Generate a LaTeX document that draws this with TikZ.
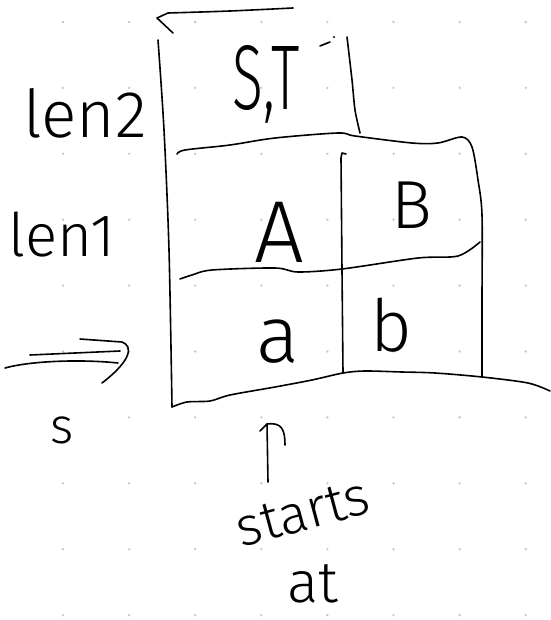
\documentclass[tikz,border=0pt]{standalone}
\usepackage{fontspec}
\usepackage{graphicx}
\setmainfont{Fira Sans Light}
\tikzset{
  pen/.style={line width=1.6pt, line cap=round, line join=round},
  lbl/.style={inner sep=0pt, text=black},
  griddot/.style={fill=black!22},
}
\newcommand{\fsz}[1]{\fontsize{#1}{#1}\selectfont}
\begin{document}
\begin{tikzpicture}[x=1pt,y=-1pt]
  \useasboundingbox (0,0) rectangle (550,620);
  \fill[white] (0,0) rectangle (550,620);
  % dotted paper
  \foreach \i in {0,...,7}
    \foreach \j in {0,...,9}
      \fill[griddot] (63+66.1*\i, 22+65.9*\j) circle (1.3);

  % outer frame: top edge with its hook, left edge, bottom edge
  \draw[pen] (173,33) -- (157,18) -- (168,13)
    plot[smooth, tension=0.5] coordinates {(168,13) (230,11) (293,8)};
  \draw[pen] plot[smooth, tension=0.5] coordinates
    {(158,40) (164,130) (169,250) (172,407)};
  \draw[pen] plot[smooth, tension=0.5] coordinates
    {(172,407) (187,402) (210,401) (230,395) (275,387) (312,380)
     (343,373) (365,371) (402,372) (435,373) (482,377) (528,383) (550,391)};

  % top cell (len2)
  \draw[pen] plot[smooth, tension=0.5] coordinates
    {(347,37) (352,80) (355,110) (360,133)};
  \draw[pen] plot[smooth, tension=0.5] coordinates
    {(177,154) (185,150) (230,145) (275,138) (338,133) (355,136)
     (412,143) (438,143) (462,137) (472,147) (478,180) (482,215)
     (482,300) (482,377)};
  \draw[pen] (320,46) -- (330,42);
  \fill (334,37) circle (1.2);

  % row divider (len1 above, s below)
  \draw[pen] plot[smooth, tension=0.5] coordinates
    {(180,279) (192,275) (212,270) (275,268) (298,272) (342,269)
     (418,258) (458,256) (480,242)};

  % column divider
  \draw[pen] (346,154) -- (342,153) -- (341,158)
    plot[smooth, tension=0.5] coordinates {(341,158) (342,270) (343,373)};

  % cell labels
  \node[lbl] (st) at (266,84) {\fsz{92}\scalebox{0.62}[1]{S,T}};
  \node[lbl] (ca) at (279,232) {\fsz{88}A};
  \node[lbl] (cb) at (412,205) {\fsz{68}B};
  \node[lbl] (sa) at (278,342) {\fsz{80}a};
  \node[lbl] (sb) at (391,325) {\fsz{72}b};

  % row labels
  \node[lbl] (l2) at (85,113) {\fsz{66}len2};
  \node[lbl] (l1) at (62,235) {\fsz{60}len1};

  % direction of s
  \coordinate (u0) at (30,355);
  \coordinate (u1) at (120,351);
  \coordinate (w0) at (5,368);
  \coordinate (w1) at (118,363);
  \draw[pen] (u0) -- (u1);
  \draw[pen] (w0) .. controls (30,361) and (80,359) .. (w1);
  \coordinate (h0) at (80,339);
  \coordinate (h1) at (102,383);
  \draw[pen] (h0) -- (122,342) .. controls (133,346) and (132,360) .. (h1);
  \node[lbl] (sl) at (62,430) {\fsz{50}s};

  % start marker
  \node[lbl, rotate=15] (starts) at (303,513) {\fsz{54}starts};
  \node[lbl] (at) at (313,584) {\fsz{58}at};
  \coordinate (ar) at (267,424);
  \draw[pen] (268,482) -- (ar);
  \draw[pen] (260,431) -- (ar) .. controls (282,422) and (285,430) .. (285,445);
\end{tikzpicture}
\end{document}
